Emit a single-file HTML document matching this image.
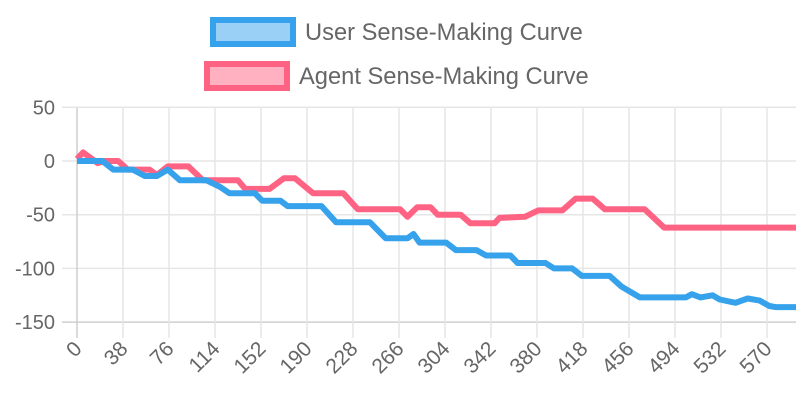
<!DOCTYPE html>
<html><head><meta charset="utf-8"><style>
html,body{margin:0;padding:0;background:#fff;width:800px;height:400px;overflow:hidden}
svg{display:block;font-family:"Liberation Sans",Arial,sans-serif}
</style></head><body>
<svg id="c" width="800" height="400">
<g id="legend">
 <g>
  <rect x="213" y="20" width="80" height="24" fill="rgba(54,162,235,0.5)" stroke="#36a2eb" stroke-width="6"/>
  <text x="305" y="40" font-size="23.7" fill="#666">User Sense-Making Curve</text>
 </g>
 <g>
  <rect x="207" y="64" width="80" height="24" fill="rgba(255,99,132,0.5)" stroke="#ff6384" stroke-width="6"/>
  <text x="299" y="84" font-size="23.7" fill="#666">Agent Sense-Making Curve</text>
 </g>
</g>
<g id="grid"></g><g id="axes"></g><g id="series"></g>
</svg>
<script>
const userX=[0,21,30,46,56,66,75,85,107,118,126,147,153,168,174,202,214,242,255,273,278,283,305,313,330,338,358,364,387,394,409,417,440,450,465,503,508,515,525,531,544,554,564,572,577,594];
const userY=[0,0,-8,-8,-14,-14,-8,-18,-18,-24,-30,-30,-37,-37,-42,-42,-57,-57,-72,-72,-68,-76,-76,-83,-83,-88,-88,-95,-95,-100,-100,-107,-107,-117,-127,-127,-124,-127,-125,-129,-132,-128,-130,-135,-136,-136];
const agentX=[0,5,17,23,34,42,60,66,75,92,104,133,139,159,171,180,195,220,232,267,273,281,292,298,317,325,345,349,370,381,401,412,426,436,469,485,594];
const agentY=[2,8,-2,0,0,-8,-8,-13,-5,-5,-18,-18,-26,-26,-16,-16,-30,-30,-45,-45,-52,-43,-43,-50,-50,-58,-58,-53,-52,-46,-46,-35,-35,-45,-45,-62,-62];
const yTicks=[50,0,-50,-100,-150];
const xTicks=[0,38,76,114,152,190,228,266,304,342,380,418,456,494,532,570];
const X0=77,XS=1.2105,Y0=161,YS=53.7/50;
const sx=v=>X0+v*XS, sy=v=>Y0-v*YS;
const NS="http://www.w3.org/2000/svg";
function mk(t,a,p){const e=document.createElementNS(NS,t);for(const k in a)e.setAttribute(k,a[k]);p.appendChild(e);return e;}
const grid=document.getElementById('grid'),axes=document.getElementById('axes'),ser=document.getElementById('series');
yTicks.forEach(v=>{
 const l=mk('line',{x1:62,x2:796,y1:sy(v),y2:sy(v),stroke:v===-150?'#cfcfcf':'#e6e6e6','stroke-width':1.5},grid);
 
 
 const t=mk('text',{x:55,y:sy(v)+7,'text-anchor':'end','font-size':20,fill:'#666'},axes);
 t.textContent=v;
 
 
});
xTicks.forEach(v=>{
 const l=mk('line',{x1:sx(v),x2:sx(v),y1:108,y2:338,stroke:v===0?'#cfcfcf':'#e6e6e6','stroke-width':1.5},grid);
 
 
 const x=sx(v)+6,y=350;
 const t=mk('text',{x:x,y:y,'text-anchor':'end','font-size':21,fill:'#666',transform:`rotate(-45 ${x} ${y})`},axes);
 t.textContent=v;
 
 
});
function draw(xs,ys,col,name){
 const pts=xs.map((x,i)=>sx(x).toFixed(1)+','+sy(ys[i]).toFixed(1)).join(' ');
 const p=mk('polyline',{points:pts,fill:'none',stroke:col,'stroke-width':6,'stroke-linejoin':'round'},ser);
 
 
}
draw(agentX,agentY,'#ff6384','agent-curve');
draw(userX,userY,'#36a2eb','user-curve');
</script>
</body></html>
